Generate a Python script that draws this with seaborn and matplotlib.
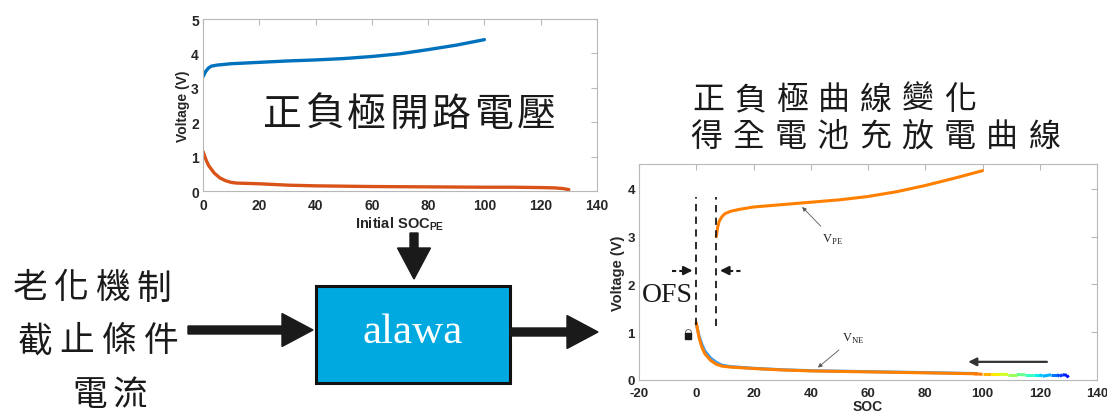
import numpy as np
import seaborn as sns
import matplotlib.pyplot as plt
from matplotlib.patches import Rectangle, FancyArrow
from matplotlib.collections import LineCollection

# open-circuit curves (top chart)
pe_soc = [0, 1, 2, 3, 5, 10, 20, 30, 40, 50, 60, 70, 80, 90, 100]
pe_v = [3.32, 3.48, 3.58, 3.63, 3.66, 3.70, 3.74, 3.78, 3.81, 3.85, 3.91, 3.99, 4.11, 4.24, 4.40]
ne_soc = [0, 1, 2, 4, 6, 8, 10, 12, 20, 30, 40, 60, 80, 100, 110, 120, 125, 128, 130]
ne_v = [1.15, 0.92, 0.74, 0.52, 0.38, 0.30, 0.25, 0.23, 0.21, 0.17, 0.15, 0.13, 0.12, 0.11, 0.11, 0.10, 0.09, 0.07, 0.04]

# full-cell curves (right chart)
vpe_soc = [7, 7.5, 8, 9, 10, 12, 15, 20, 30, 40, 50, 60, 70, 80, 90, 100]
vpe_v = [3.0, 3.2, 3.32, 3.42, 3.48, 3.53, 3.57, 3.62, 3.67, 3.72, 3.77, 3.84, 3.94, 4.07, 4.22, 4.38]
vne_soc = [0, 1, 2, 3, 5, 7, 9, 12, 20, 30, 40, 60, 80, 98]
vne_v = [1.2, 0.88, 0.68, 0.55, 0.41, 0.33, 0.29, 0.27, 0.24, 0.21, 0.19, 0.17, 0.15, 0.13]
vne_blue_v = [1.18, 0.92, 0.74, 0.61, 0.46, 0.37, 0.31, 0.28, 0.245, 0.215, 0.195, 0.175, 0.155, 0.135]
tail_soc = [97, 100, 103, 106, 109, 112, 115, 118, 120, 121, 124, 126, 127, 128, 129.5, 130]
tail_v = [0.13, 0.12, 0.12, 0.12, 0.115, 0.115, 0.11, 0.11, 0.11, 0.08, 0.11, 0.11, 0.08, 0.11, 0.10, 0.05]

left_lines = ['老化機制', '截止條件', '電流']
title_lines = ['正負極曲線變化', '得全電池充放電曲線']
top_note = '正負極開路電壓'
ofs_offset = 7

sns.set_theme(style='white')
plt.rcParams['font.family'] = ['Liberation Sans', 'Noto Sans CJK TC']
plt.rcParams['font.weight'] = 'bold'
plt.rcParams['axes.unicode_minus'] = False
cjk = 'Noto Sans CJK TC'
grey = '#b8b8b8'

fig = plt.figure(figsize=(11.07, 4.14), dpi=100)


def matlab_axes(ax, size):
    for s in ax.spines.values():
        s.set_color(grey)
        s.set_linewidth(0.8)
    ax.tick_params(direction='in', length=4, width=0.8, color=grey, labelsize=size,
                   top=True, right=True, labelcolor='#262626')
    ax.tick_params(axis='y', pad=3)
    ax.tick_params(axis='x', pad=5)
    for lab in ax.get_xticklabels() + ax.get_yticklabels():
        lab.set_fontweight('bold')


def spaced(ax, x0, y, s, pitch, size):
    # place CJK characters one by one so the spacing matches the slide
    for i, ch in enumerate(s):
        ax.text(x0 + pitch * (i + 0.5), y, ch, family=cjk, fontweight='normal', fontsize=size,
                ha='center', va='center', color='k')


# top chart
ax1 = fig.add_axes([203 / 1107, 1 - 192 / 414, 394 / 1107, 172 / 414])
sns.lineplot(x=pe_soc, y=pe_v, ax=ax1, color='#0072BD', linewidth=2.4)
sns.lineplot(x=ne_soc, y=ne_v, ax=ax1, color='#D95319', linewidth=2.4)
ax1.set_xlim(0, 140)
ax1.set_ylim(0, 5)
ax1.set_xticks(range(0, 141, 20))
ax1.set_yticks(range(0, 6))
ax1.set_xlabel('Initial SOC$_{\\mathregular{PE}}$', fontsize=10.5, fontweight='bold', labelpad=2, color='#262626')
ax1.set_ylabel('Voltage (V)', fontsize=10, fontweight='bold', labelpad=1, color='#262626')
matlab_axes(ax1, 10)

# right chart
ax2 = fig.add_axes([639 / 1107, 1 - 381 / 414, 458 / 1107, 216 / 414])
sns.lineplot(x=vne_soc, y=vne_blue_v, ax=ax2, color='#3d9df0', linewidth=2.2)
sns.lineplot(x=vne_soc, y=vne_v, ax=ax2, color='#ff8000', linewidth=2.2)
sns.lineplot(x=vpe_soc, y=vpe_v, ax=ax2, color='#ff8000', linewidth=2.2)
pts = np.column_stack([tail_soc, tail_v]).reshape(-1, 1, 2)
segs = np.concatenate([pts[:-1], pts[1:]], axis=1)
lc = LineCollection(segs, cmap='jet', linewidth=2.2)
lc.set_array(0.12 + (130 - np.array(tail_soc[:-1])) / 33 * 0.66)
lc.set_clim(0, 1)
ax2.add_collection(lc)
ax2.set_xlim(-20, 140)
ax2.set_ylim(0, 4.52)
ax2.set_xticks(range(-20, 141, 20))
ax2.set_yticks(range(0, 5))
ax2.set_xlabel('SOC', fontsize=10, fontweight='bold', labelpad=0, color='#262626')
ax2.set_ylabel('Voltage (V)', fontsize=10.5, fontweight='bold', labelpad=2, color='#262626')
matlab_axes(ax2, 9.5)

# offset markers
ax2.plot([0, 0], [1.15, 3.83], color='k', ls=(0, (4, 3)), lw=1.3)
ax2.plot([ofs_offset, ofs_offset], [1.12, 3.83], color='k', ls=(0, (4, 3)), lw=1.3)
ax2.plot([-8.5, -4], [2.29, 2.29], color='k', ls=(0, (2, 1.5)), lw=1.5)
ax2.annotate('', xy=(-1.3, 2.29), xytext=(-4.5, 2.29),
             arrowprops=dict(arrowstyle='-|>', color='k', lw=1.5, mutation_scale=13, shrinkA=0, shrinkB=0))
ax2.plot([11.5, 16], [2.29, 2.29], color='k', ls=(0, (2, 1.5)), lw=1.5)
ax2.annotate('', xy=(8.3, 2.29), xytext=(11.5, 2.29),
             arrowprops=dict(arrowstyle='-|>', color='k', lw=1.5, mutation_scale=13, shrinkA=0, shrinkB=0))
ax2.text(-19, 1.66, 'OFS', family='Liberation Serif', fontweight='normal', fontsize=20, color='k')
ax2.scatter([-2.9], [0.92], marker='s', s=22, color='k', zorder=5)
ax2.scatter([-2.9], [1.0], marker='o', s=18, facecolor='white', edgecolor='#555555', linewidth=0.6, zorder=4)

ax2.annotate('V$_{\\mathregular{PE}}$', xy=(37, 3.62), xytext=(44, 2.9), family='Liberation Serif',
             fontweight='normal', fontsize=9, color='#222222',
             arrowprops=dict(arrowstyle='-|>', color='#555555', lw=0.6, mutation_scale=6, shrinkA=2, shrinkB=0))
ax2.annotate('V$_{\\mathregular{NE}}$', xy=(42.5, 0.26), xytext=(51, 0.82), family='Liberation Serif',
             fontweight='normal', fontsize=9, color='#222222',
             arrowprops=dict(arrowstyle='-|>', color='#555555', lw=0.6, mutation_scale=6, shrinkA=2, shrinkB=0))
ax2.annotate('', xy=(95, 0.38), xytext=(122.5, 0.38),
             arrowprops=dict(arrowstyle='-|>', color='#333333', lw=1.6, mutation_scale=12, shrinkA=0, shrinkB=0))

# block diagram overlay in pixel coordinates
ov = fig.add_axes([0, 0, 1, 1], zorder=5)
ov.set_xlim(0, 1107)
ov.set_ylim(414, 0)
ov.axis('off')
ov.add_patch(Rectangle((316, 287), 194, 97, facecolor='#00a9e0', edgecolor='#111111', linewidth=2.2))
ov.text(413, 333, 'alawa', family='Liberation Serif', fontweight='normal', fontsize=31,
        color='white', ha='center', va='center')
arrow_kw = dict(width=8, head_width=33, head_length=31, length_includes_head=True, color='k')
ov.add_patch(FancyArrow(188, 331, 125, 0, **arrow_kw))
ov.add_patch(FancyArrow(510, 333, 88, 0, **arrow_kw))
ov.add_patch(FancyArrow(414, 234, 0, 46, **arrow_kw))

spaced(ov, 10, 289, left_lines[0], 41, 25)
spaced(ov, 14, 342, left_lines[1], 42, 25)
spaced(ov, 70, 396, left_lines[2], 40, 25)
spaced(ov, 261, 115, top_note, 42.3, 28)
spaced(ov, 687, 100, title_lines[0], 42, 23)
spaced(ov, 685, 137, title_lines[1], 42.3, 23)

fig.savefig('out.png', dpi=100, facecolor='white')
